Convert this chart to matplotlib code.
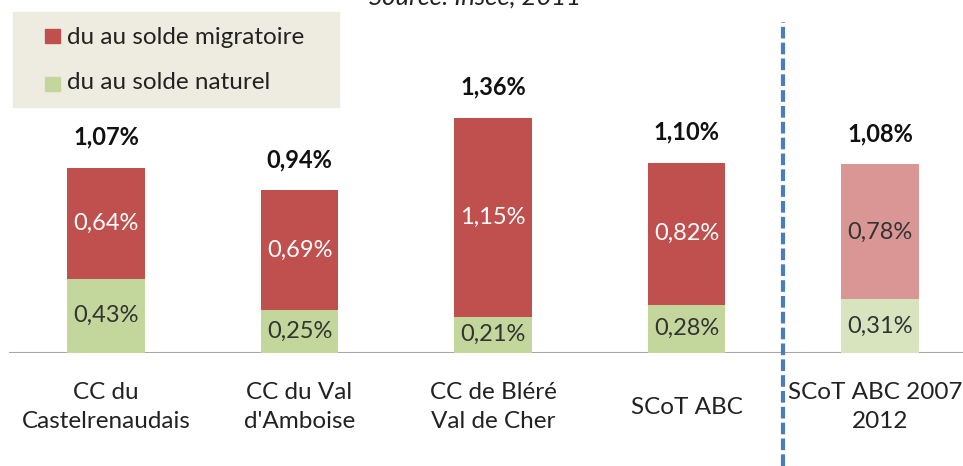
import matplotlib
matplotlib.use("Agg")
import matplotlib.pyplot as plt
from matplotlib.lines import Line2D
from matplotlib.patches import Rectangle
import numpy as np

# Données (Insee, 2011)
categories = ["CC du\nCastelrenaudais", "CC du Val\nd'Amboise", "CC de Bléré\nVal de Cher",
              "SCoT ABC", "SCoT ABC 2007-\n2012"]
naturel = [0.43, 0.25, 0.21, 0.28, 0.31]
migratoire = [0.64, 0.69, 1.15, 0.82, 0.78]
totaux = [1.07, 0.94, 1.36, 1.10, 1.08]

plt.rcParams["font.family"] = ["Lato", "DejaVu Sans"]

RED, GREEN = "#C0504D", "#C3D69B"
RED_L, GREEN_L = "#D99694", "#D7E4BD"

W, H = 963, 466
fig = plt.figure(figsize=(W / 100, H / 100), dpi=100)
ax = fig.add_axes([0, (H - 353) / H, 1, 353 / H])

x = np.arange(len(categories))
c_red = [RED] * 4 + [RED_L]
c_green = [GREEN] * 4 + [GREEN_L]

ax.bar(x, naturel, width=0.4, color=c_green, zorder=2)
ax.bar(x, migratoire, width=0.4, bottom=naturel, color=c_red, zorder=2)

fmt = lambda v: f"{v:.2f}".replace(".", ",") + "%"
for i in x:
    ax.text(i, naturel[i] / 2, fmt(naturel[i]), ha="center", va="center",
            fontsize=17, color="#333333", zorder=3)
    ax.text(i, naturel[i] + migratoire[i] / 2, fmt(migratoire[i]), ha="center", va="center",
            fontsize=17, color="white" if i < 4 else "#333333", zorder=3)
    ax.annotate(fmt(totaux[i]), xy=(i, naturel[i] + migratoire[i]), xytext=(0, 22),
                textcoords="offset points", ha="center", va="center",
                fontsize=17, fontweight="bold", color="#111111")
    ax.annotate(categories[i], xy=(i, 0), xytext=(0, -39), textcoords="offset points",
                ha="center", va="center", fontsize=17.5, color="#222222",
                linespacing=1.45, annotation_clip=False)

ax.set_xlim(-106 / 193.5, (W - 106) / 193.5)
ax.set_ylim(0, 353 / 173)
ax.axis("off")
ax.axhline(0, xmin=10 / W, color="#A6A6A6", lw=1.5, zorder=1)

# séparation pointillée
xd = 783 / W
fig.add_artist(Line2D([xd, xd], [0, 1 - 22 / H], transform=fig.transFigure,
                      color="#4A7EBB", lw=3, linestyle=(0, (2.8, 1.0))))

# légende
fig.add_artist(Rectangle((13 / W, 1 - 107 / H), (339 - 13) / W, (107 - 12) / H,
                         transform=fig.transFigure, color="#EEECE1", zorder=0))
fig.add_artist(Rectangle((45 / W, 1 - 43 / H), 15 / W, 14 / H,
                         transform=fig.transFigure, color=RED))
fig.add_artist(Rectangle((45 / W, 1 - 91 / H), 15 / W, 14 / H,
                         transform=fig.transFigure, color=GREEN))
fig.text(67 / W, 1 - 37 / H, "du au solde migratoire", fontsize=17.5, color="#222222", va="center")
fig.text(67 / W, 1 - 83 / H, "du au solde naturel", fontsize=17.5, color="#222222", va="center")

fig.text(475 / W, 1 - 5 / H, "Source: Insee, 2011", fontsize=18.5, style="italic",
         color="#222222", ha="center", va="baseline")

fig.savefig("out.png", dpi=100)
